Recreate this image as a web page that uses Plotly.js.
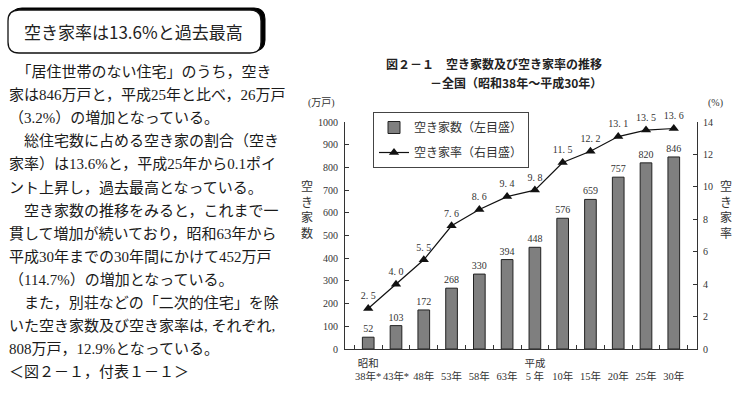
<!DOCTYPE html>
<html><head><meta charset="utf-8">
<script src="https://cdn.plot.ly/plotly-3.0.1.min.js"></script>
<style>html,body{margin:0;padding:0;background:#fff;}#chart{width:736px;height:395px;}</style>
</head><body><div id="chart"></div>
<script>
// ---- data ----
const years = ["38年*","43年*","48年","53年","58年","63年","5 年","10年","15年","20年","25年","30年"];
const eras  = ["昭和","","","","","","平成","","","","",""];
const vacantHomes = [52,103,172,268,330,394,448,576,659,757,820,846];   // 万戸
const vacancyRate = [2.5,4.0,5.5,7.6,8.6,9.4,9.8,11.5,12.2,13.1,13.5,13.6]; // %
const leftTicks = [0,100,200,300,400,500,600,700,800,900,1000];
const rightTicks = [0,2,4,6,8,10,12,14];
const headline = "空き家率は13.6%と過去最高";
const bodyLines = [
  "　「居住世帯のない住宅」のうち，空き",
  "家は846万戸と，平成25年と比べ，26万戸",
  "（3.2%）の増加となっている。",
  "　総住宅数に占める空き家の割合（空き",
  "家率）は13.6%と，平成25年から0.1ポイ",
  "ント上昇し，過去最高となっている。",
  "　空き家数の推移をみると，これまで一",
  "貫して増加が続いており，昭和63年から",
  "平成30年までの30年間にかけて452万戸",
  "（114.7%）の増加となっている。",
  "　また，別荘などの「二次的住宅」を除",
  "いた空き家数及び空き家率は, それぞれ,",
  "808万戸，12.9%となっている。",
  "＜図２－１，付表１－１＞"
];
const chartTitle1 = "図２－１　空き家数及び空き家率の推移";
const chartTitle2 = "－全国（昭和38年～平成30年）";

// ---- helpers ----
const W = 736, H = 395;
const px = x => x / W;
const py = y => 1 - y / H;
function roundRect(x0, y0, x1, y1, r) {
  const rx = r / W, ry = r / H;
  const a = px(x0), b = px(x1), t = py(y0), d = py(y1);
  return `M ${a+rx},${t} L ${b-rx},${t} Q ${b},${t} ${b},${t-ry} L ${b},${d+ry} Q ${b},${d} ${b-rx},${d} L ${a+rx},${d} Q ${a},${d} ${a},${d+ry} L ${a},${t-ry} Q ${a},${t} ${a+rx},${t} Z`;
}
const SERIF = "Liberation Serif, 'Noto Sans CJK JP', serif";
const JP = "'Noto Sans CJK JP', sans-serif";
const fmt1 = v => v.toFixed(1).replace(".", ". ");

const traces = [
  {
    type: "bar", name: "空き家数（左目盛）", legendgroup: "a",
    x: years, y: vacantHomes, width: 0.42,
    marker: {color: "#7f7f7f", line: {color: "#222", width: 1}},
    text: vacantHomes.map(String), textposition: "outside", constraintext: "none",
    textfont: {family: SERIF, size: 10, color: "#333"},
    cliponaxis: false, hoverinfo: "skip"
  },
  {
    type: "scatter", mode: "lines+markers+text", name: "空き家率（右目盛）", legendgroup: "b",
    x: years, y: vacancyRate, yaxis: "y2",
    line: {color: "#111", width: 1.2},
    marker: {symbol: "triangle-up", size: 9, color: "#111"},
    text: vacancyRate.map(fmt1), textposition: "top center",
    textfont: {family: SERIF, size: 10, color: "#333"},
    cliponaxis: false, hoverinfo: "skip"
  }
];

const annotations = [];
annotations.push({xref:"paper", yref:"paper", x: px(22), y: py(32), xanchor:"left", yanchor:"middle",
  text: headline, showarrow:false, font:{family: JP, size: 17, color:"#222"}});
bodyLines.forEach((t, i) => {
  annotations.push({xref:"paper", yref:"paper", x: px(7), y: py(72 + i * 23.1), xanchor:"left", yanchor:"middle",
    text: t, showarrow:false, font:{family: SERIF, size: 15, color:"#1a1a1a"}});
});
annotations.push({xref:"paper", yref:"paper", x: px(604), y: py(64), xanchor:"right", yanchor:"middle",
  text: "<b>" + chartTitle1 + "</b>", showarrow:false, font:{family: JP, size: 12, color:"#222"}});
annotations.push({xref:"paper", yref:"paper", x: px(604), y: py(82), xanchor:"right", yanchor:"middle",
  text: "<b>" + chartTitle2 + "</b>", showarrow:false, font:{family: JP, size: 12, color:"#222"}});
annotations.push({xref:"paper", yref:"paper", x: px(321), y: py(103), xanchor:"center", yanchor:"middle",
  text: "(万戸)", showarrow:false, font:{family: SERIF, size: 10, color:"#333"}});
annotations.push({xref:"paper", yref:"paper", x: px(715), y: py(103), xanchor:"center", yanchor:"middle",
  text: "(%)", showarrow:false, font:{family: SERIF, size: 10, color:"#333"}});
annotations.push({xref:"paper", yref:"paper", x: px(307), y: py(209), xanchor:"center", yanchor:"middle",
  text: "空<br>き<br>家<br>数", showarrow:false, font:{family: JP, size: 12, color:"#333"}});
annotations.push({xref:"paper", yref:"paper", x: px(726), y: py(209), xanchor:"center", yanchor:"middle",
  text: "空<br>き<br>家<br>率", showarrow:false, font:{family: JP, size: 12, color:"#333"}});

const shapes = [
  {type:"path", xref:"paper", yref:"paper", path: roundRect(11, 8, 265, 51, 11), fillcolor:"#000", line:{color:"#000", width:1}},
  {type:"path", xref:"paper", yref:"paper", path: roundRect(8, 10, 261, 53, 11), fillcolor:"#fff", line:{color:"#111", width:1.3}}
];

const layout = {
  width: W, height: H, autosize: false,
  margin: {l:0, r:0, t:0, b:0},
  paper_bgcolor: "#fff", plot_bgcolor: "rgba(0,0,0,0)",
  showlegend: true,
  legend: {x: px(373), y: py(112), xanchor:"left", yanchor:"top",
    bordercolor:"#444", borderwidth:1, bgcolor:"#fff", traceorder: "grouped",
    font:{family: JP, size: 12, color:"#333"}, tracegroupgap: 6, itemwidth: 30},
  xaxis: {domain: [px(345), px(697)], type:"category",
    tickmode:"array", tickvals: years, tickangle: 0,
    ticktext: years.map((y, i) => (eras[i] || "\u00a0") + "<br>" + y),
    showline:true, linecolor:"#333", linewidth:1, ticks:"inside", tickson:"boundaries",
    ticklen:4, tickcolor:"#333", showgrid:false, zeroline:false, ticklabelstandoff: 4,
    tickfont:{family: SERIF, size: 10.5, color:"#333"}},
  yaxis: {domain: [py(349), py(122)], range:[0,1000], tickmode:"array", tickvals: leftTicks,
    showline:true, linecolor:"#333", ticks:"inside", ticklen:4, tickcolor:"#333",
    showgrid:false, zeroline:false, ticklabelstandoff: 4,
    tickfont:{family: SERIF, size: 10, color:"#333"}},
  yaxis2: {overlaying:"y", side:"right", range:[0,14], tickmode:"array", tickvals: rightTicks,
    showline:true, linecolor:"#333", ticks:"inside", ticklen:4, tickcolor:"#333",
    showgrid:false, zeroline:false, ticklabelstandoff: 3,
    tickfont:{family: SERIF, size: 10, color:"#333"}},
  annotations: annotations,
  shapes: shapes
};

Plotly.newPlot("chart", traces, layout, {staticPlot: true, displayModeBar: false});
</script>
</body></html>
